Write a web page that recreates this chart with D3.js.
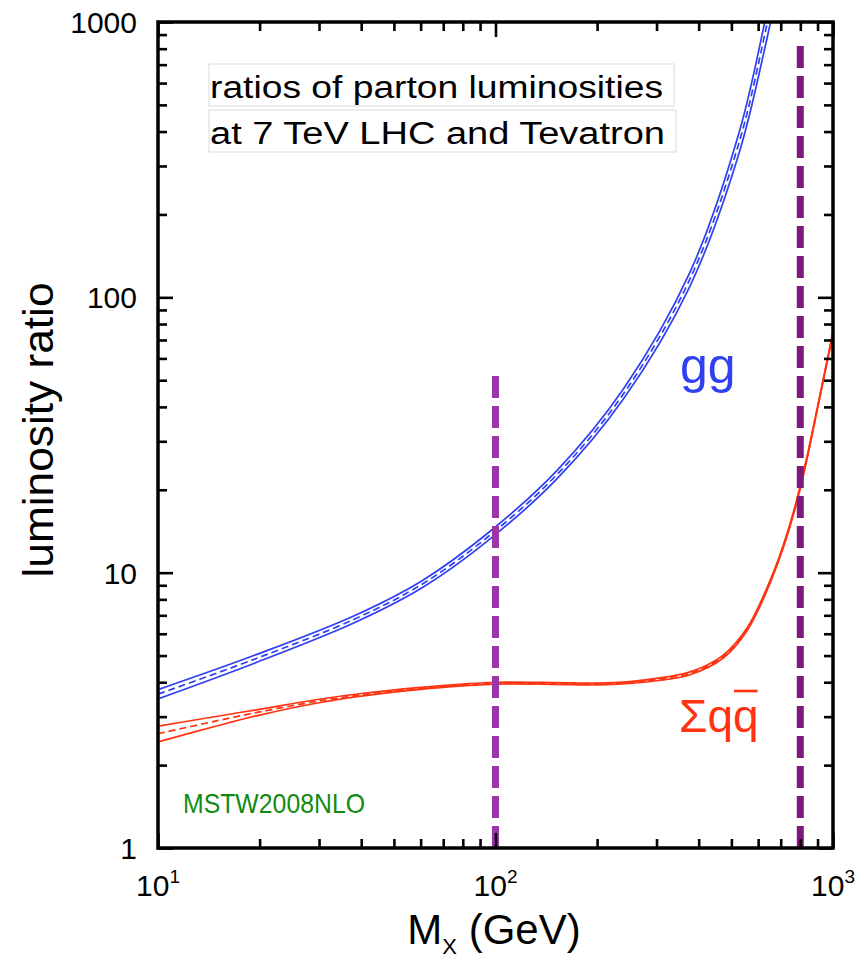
<!DOCTYPE html>
<html>
<head>
<meta charset="utf-8">
<script src="https://cdn.jsdelivr.net/npm/d3@7"></script>
<style>
body { margin: 0; background: #fff; }
svg { display: block; font-family: "Liberation Sans", Arial, Helvetica, sans-serif; }
</style>
</head>
<body>
<script>
// gg luminosity ratio (LHC 7 TeV / Tevatron)
var ggMass  = [10, 19.4, 38.3, 60.6, 95, 152, 239, 377, 527, 629, 673];
var ggMid   = [3.62, 4.86, 6.79, 9.08, 13.5, 22.7, 44.5, 116.7, 365.6, 909.7, 1359];
var ggUp    = [3.76, 5.02, 6.99, 9.35, 13.93, 23.49, 46.37, 123.5, 396.7, 1009.8, 1522];
var ggLo    = [3.48, 4.70, 6.59, 8.81, 13.07, 21.91, 42.63, 109.9, 334.5, 809.6, 1196];

// sum q qbar luminosity ratio
var qqMass  = [10, 15, 20, 30, 40, 60, 80, 100, 150, 200, 250, 300, 377, 473, 555, 636, 713, 780, 835, 915, 1000];
var qqMid   = [2.60, 2.90, 3.12, 3.42, 3.60, 3.80, 3.91, 3.97, 3.96, 3.94, 3.99, 4.09, 4.31, 4.96, 6.20, 8.66, 12.5, 18.1, 25.7, 43.9, 74.3];
var qqUp    = [2.77, 3.01, 3.19, 3.47, 3.64, 3.83, 3.94, 4.00, 3.99, 3.97, 4.02, 4.13, 4.36, 5.02, 6.27, 8.76, 12.64, 18.3, 26.0, 44.3, 75.0];
var qqLo    = [2.43, 2.78, 3.04, 3.37, 3.56, 3.77, 3.88, 3.94, 3.93, 3.91, 3.96, 4.05, 4.26, 4.90, 6.13, 8.56, 12.36, 17.9, 25.4, 43.5, 73.6];

// vertical marker lines (Tevatron / LHC)
var markerX   = [100, 800];
var markerTop = [53.5, 840];

var xMajor = [10, 100, 1000];
var xExp   = ["1", "2", "3"];
var yMajor = [1, 10, 100, 1000];
var yLabels = ["1", "10", "100", "1000"];

var width = 868, height = 960;

var svg = d3.select("body").append("svg")
    .attr("width", width)
    .attr("height", height);

var x = d3.scaleLog().domain([10, 1000]).range([158, 833]);
var y = d3.scaleLog().domain([1, 1000]).range([848, 22]);

svg.append("clipPath").attr("id", "clip")
  .append("rect")
    .attr("x", x.range()[0]).attr("y", y.range()[1])
    .attr("width", x.range()[1] - x.range()[0])
    .attr("height", y.range()[0] - y.range()[1]);

var line = d3.line()
    .x(function (d) { return x(d[0]); })
    .y(function (d) { return y(d[1]); })
    .curve(d3.curveCatmullRom.alpha(0.5));

var plot = svg.append("g").attr("clip-path", "url(#clip)");

function drawBand(mass, lo, mid, hi, color) {
    [lo, hi].forEach(function (vals) {
        plot.append("path")
            .attr("d", line(d3.zip(mass, vals)))
            .attr("fill", "none")
            .attr("stroke", color)
            .attr("stroke-width", 1.7);
    });
    plot.append("path")
        .attr("d", line(d3.zip(mass, mid)))
        .attr("fill", "none")
        .attr("stroke", color)
        .attr("stroke-width", 1.7)
        .attr("stroke-dasharray", "7,4");
}

drawBand(ggMass, ggLo, ggMid, ggUp, "#2f3ff2");
drawBand(qqMass, qqLo, qqMid, qqUp, "#ff3312");

// dashed vertical markers
var markerColor = ["#9a36a8", "#7b1a7b"];
markerX.forEach(function (m, i) {
    svg.append("line")
        .attr("x1", x(m)).attr("x2", x(m))
        .attr("y1", y(1)).attr("y2", y(markerTop[i]))
        .attr("stroke", markerColor[i])
        .attr("stroke-width", 7)
        .attr("stroke-dasharray", "22,8");
});

// axes: ticks pointing inwards on all four sides
var xMinor = [], yMinor = [];
[10, 100].forEach(function (d) { for (var k = 2; k < 10; k++) xMinor.push(d * k); });
[1, 10, 100].forEach(function (d) { for (var k = 2; k < 10; k++) yMinor.push(d * k); });

function addAxis(axisFn, scale, vals, size, tx, ty) {
    var g = svg.append("g")
        .attr("transform", "translate(" + tx + "," + ty + ")")
        .call(axisFn(scale).tickValues(vals).tickSize(size).tickFormat(""));
    g.select(".domain").remove();
    g.selectAll(".tick line").attr("stroke", "#000").attr("stroke-width", 2.6);
}

addAxis(d3.axisBottom, x, xMajor, -15, 0, 848);
addAxis(d3.axisBottom, x, xMinor, -9, 0, 848);
addAxis(d3.axisTop, x, xMajor, -15, 0, 22);
addAxis(d3.axisTop, x, xMinor, -9, 0, 22);
addAxis(d3.axisLeft, y, yMajor, -15, 158, 0);
addAxis(d3.axisLeft, y, yMinor, -9, 158, 0);
addAxis(d3.axisRight, y, yMajor, -15, 833, 0);
addAxis(d3.axisRight, y, yMinor, -9, 833, 0);

svg.append("rect")
    .attr("x", 158).attr("y", 22)
    .attr("width", 833 - 158).attr("height", 848 - 22)
    .attr("fill", "none")
    .attr("stroke", "#000")
    .attr("stroke-width", 3.5);

// tick labels
svg.selectAll(".ylab").data(yMajor).enter().append("text")
    .attr("class", "ylab")
    .attr("x", 137)
    .attr("y", function (d) { return y(d) + 11; })
    .attr("text-anchor", "end")
    .attr("font-size", 30)
    .text(function (d, i) { return yLabels[i]; });

xMajor.forEach(function (d, i) {
    var t = svg.append("text")
        .attr("x", x(d))
        .attr("y", 896)
        .attr("text-anchor", "middle")
        .attr("font-size", 30);
    t.append("tspan").text("10");
    t.append("tspan").attr("dy", -13).attr("font-size", 19).text(xExp[i]);
});

// axis titles
var xt = svg.append("text")
    .attr("x", 494).attr("y", 944)
    .attr("text-anchor", "middle")
    .attr("font-size", 42);
xt.append("tspan").text("M");
xt.append("tspan").attr("dy", 10).attr("font-size", 22).text("X");
xt.append("tspan").attr("dy", -10).text(" (GeV)");

svg.append("text")
    .attr("transform", "translate(53,430) rotate(-90)")
    .attr("text-anchor", "middle")
    .attr("font-size", 42)
    .attr("textLength", 295)
    .attr("lengthAdjust", "spacingAndGlyphs")
    .text("luminosity ratio");

// title boxes
var titleLines = ["ratios of parton luminosities", "at 7 TeV LHC and Tevatron"];
var titleBase = [98, 144];
var titleLen = [453, 455];
titleLines.forEach(function (s, i) {
    var box = svg.append("rect")
        .attr("fill", "#fff")
        .attr("stroke", "#d9d9d9")
        .attr("stroke-width", 1);
    svg.append("text")
        .attr("x", 210).attr("y", titleBase[i])
        .attr("font-size", 31)
        .attr("textLength", titleLen[i])
        .attr("lengthAdjust", "spacingAndGlyphs")
        .text(s);
    box.attr("x", 209).attr("y", titleBase[i] - 34)
        .attr("width", titleLen[i] + 12).attr("height", 42);
});

// curve labels
svg.append("text")
    .attr("x", 680).attr("y", 383)
    .attr("font-size", 50)
    .attr("fill", "#2f3ff2")
    .text("gg");

var qt = svg.append("text")
    .attr("x", 679).attr("y", 732)
    .attr("font-size", 46)
    .attr("fill", "#ff3312")
    .text("Σqq");
var q0 = qt.node().getStartPositionOfChar(2).x,
    q1 = qt.node().getEndPositionOfChar(2).x;
svg.append("line")
    .attr("x1", q0 + 1).attr("x2", q1 - 1)
    .attr("y1", 691).attr("y2", 691)
    .attr("stroke", "#ff3312")
    .attr("stroke-width", 2.6);

svg.append("text")
    .attr("x", 183).attr("y", 813)
    .attr("font-size", 28)
    .attr("textLength", 182)
    .attr("lengthAdjust", "spacingAndGlyphs")
    .attr("fill", "#128a12")
    .text("MSTW2008NLO");
</script>
</body>
</html>
